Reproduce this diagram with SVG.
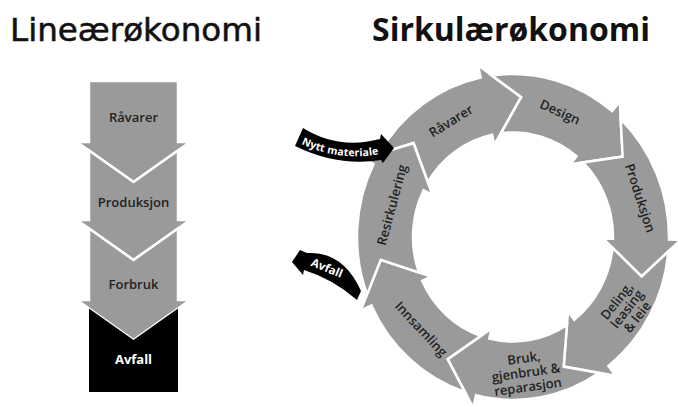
<svg xmlns="http://www.w3.org/2000/svg" xmlns:xlink="http://www.w3.org/1999/xlink" width="678" height="407" viewBox="0 0 678 407">
<style>
.title{font-family:"Open Sans","DejaVu Sans",sans-serif;font-size:32px;fill:#111}
.title2{font-family:"DejaVu Sans","Open Sans",sans-serif;font-size:32px;fill:#111;stroke:#111;stroke-width:0.55}
.lbl{font-family:"Open Sans","Liberation Sans",sans-serif;font-size:13px;font-weight:600;fill:#222;text-anchor:middle}
.wl{font-family:"Open Sans","Liberation Sans",sans-serif;font-weight:700;fill:#fff;text-anchor:middle}
.g{fill:#9a9a9a;stroke:#fff;stroke-width:2.5;stroke-linejoin:miter}
.b{fill:#000}
</style>
<defs>
<path id="seg" d="M-138.65,-71.49 A156,156 0 0 1 -41.69,-150.33 L-44.90,-161.89 L0,-134 L-24.05,-86.73 L-26.72,-96.36 A100,100 0 0 0 -88.20,-47.13 L-104.77,-83.55 Z"/>
<path id="nyttPath" d="M299,139 Q339.5,159 382,150"/>
</defs>
<rect width="678" height="407" fill="#fff"/>
<text class="title2" x="10" y="41" textLength="252" lengthAdjust="spacingAndGlyphs">Lineærøkonomi</text>
<text class="title" x="372" y="41" font-weight="700">Sirkulærøkonomi</text>

<g id="lin-raavarer">
<path class="g" d="M89,81 L178,81 L178,142 L190,142 L133.5,182 L77,142 L89,142 Z"/>
<text class="lbl" x="133.5" y="122">Råvarer</text>
</g>
<g id="lin-produksjon">
<path class="g" d="M89,150.5 L133.5,182 L178,150.5 L178,220 L190,220 L133.5,260 L77,220 L89,220 Z"/>
<text class="lbl" x="133.5" y="207">Produksjon</text>
</g>
<g id="lin-forbruk">
<path class="g" d="M89,228.5 L133.5,260 L178,228.5 L178,300 L190,300 L133.5,340 L77,300 L89,300 Z"/>
<text class="lbl" x="133.5" y="289">Forbruk</text>
</g>
<g id="lin-avfall">
<path class="b" d="M89,308.5 L133.5,340 L178,308.5 L178,392 L89,392 Z"/>
<text class="wl" x="133.5" y="364" font-size="13">Avfall</text>
</g>

<g id="sirk-raavarer">
<use xlink:href="#seg" class="g" transform="translate(513,237) scale(1,1.045) rotate(3.5)"/>
<text class="lbl" transform="translate(451,121) rotate(-32)" y="4.5">Råvarer</text>
</g>
<g id="sirk-design">
<use xlink:href="#seg" class="g" transform="translate(513,237) scale(1,1.045) rotate(54.93)"/>
<text class="lbl" transform="translate(560,112) rotate(24)" y="4.5">Design</text>
</g>
<g id="sirk-produksjon">
<use xlink:href="#seg" class="g" transform="translate(513,237) scale(1,1.045) rotate(106.36)"/>
<text class="lbl" transform="translate(640,198) rotate(72)" y="4.5">Produksjon</text>
</g>
<g id="sirk-deling">
<use xlink:href="#seg" class="g" transform="translate(513,237) scale(1,1.045) rotate(157.79)"/>
<text class="lbl" transform="translate(627,309) rotate(-52)"><tspan x="0" y="-8.5">Deling,</tspan><tspan x="0" y="4.5">leasing</tspan><tspan x="0" y="17.5">&amp; leie</tspan></text>
</g>
<g id="sirk-bruk">
<use xlink:href="#seg" class="g" transform="translate(513,237) scale(1,1.045) rotate(209.21)"/>
<text class="lbl" transform="translate(526,373) rotate(-8)"><tspan x="0" y="-10.5">Bruk,</tspan><tspan x="0" y="4">gjenbruk &amp;</tspan><tspan x="0" y="18.5">reparasjon</tspan></text>
</g>
<g id="sirk-innsamling">
<use xlink:href="#seg" class="g" transform="translate(513,237) scale(1,1.045) rotate(260.64)"/>
<text class="lbl" transform="translate(421,329) rotate(47)" y="4.5">Innsamling</text>
</g>
<g id="sirk-resirkulering">
<use xlink:href="#seg" class="g" transform="translate(513,237) scale(1,1.045) rotate(312.07)"/>
<text class="lbl" transform="translate(392,205) rotate(-75)" y="4.5">Resirkulering</text>
</g>

<g id="connectors">
<g id="nytt-materiale">
<path class="b" d="M303,128 Q338,150 380,139 L381,134 L394,148 L383,163 L381,160 Q338,167 295,146 Z"/>
<text class="wl" font-size="10.5" dy="3.5"><textPath xlink:href="#nyttPath" startOffset="50%">Nytt materiale</textPath></text>
</g>
<g id="avfall-ut">
<path class="b" d="M292,262 L300,250 L307,253 Q343,251 361,291 L357,300 Q333,279 304,270 L303,275 Z"/>
<text class="wl" font-size="11.5" transform="translate(327,268) rotate(22)" y="4">Avfall</text>
</g>
</g>
</svg>
